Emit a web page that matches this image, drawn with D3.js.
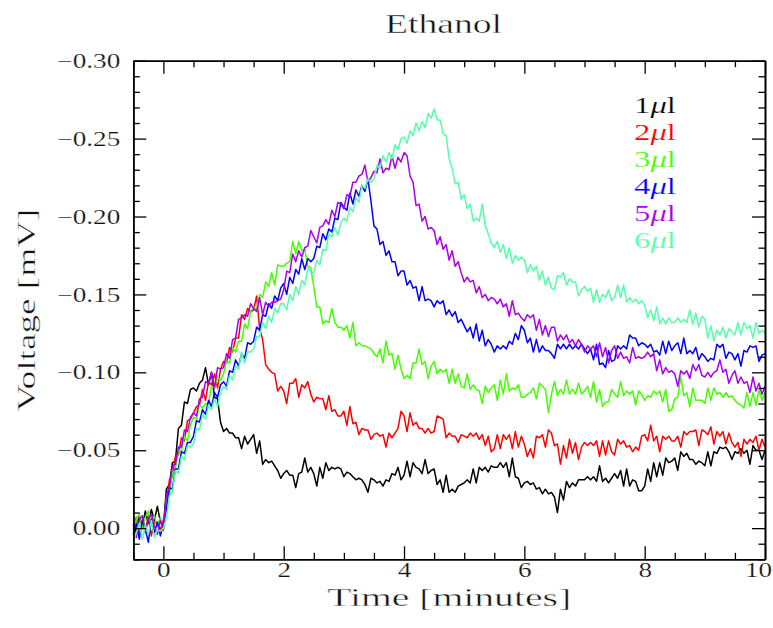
<!DOCTYPE html>
<html>
<head>
<meta charset="utf-8">
<script src="https://cdn.jsdelivr.net/npm/d3@7"></script>
<style>
  body { margin: 0; background: #fff; }
  svg { display: block; }
  text { font-family: "Liberation Serif", "DejaVu Serif", serif; fill: #111; }
  /* a fine white outline drawn over the glyphs keeps the stretched strokes light */
  text.thin { stroke: #fff; stroke-width: 0.4px; paint-order: fill stroke; }
  text.thin-sm { stroke: #fff; stroke-width: 0.2px; paint-order: fill stroke; }
</style>
</head>
<body>
<svg id="chart" width="773" height="628"></svg>
<script>
// Sensor response to ethanol injections of 1-6 microlitres.
// Each trace is sampled every 0.05 min from -0.5 to 10 min; values in microvolts.
const sampleStart = -0.5;
const sampleStep = 0.05;

const volumes = [1, 2, 3, 4, 5, 6];

const trace1ul = [
  -3, 3, -8, -1, -11, -3, -12, -5, -14, -4,
  -1, -25, -28, -42, -43, -64, -66, -81, -80, -89,
  -90, -88, -93, -95, -103, -92, -100, -84, -83, -68,
  -62, -64, -61, -61, -58, -58, -51, -59, -54, -57,
  -60, -48, -56, -41, -44, -42, -43, -40, -37, -32,
  -35, -37, -34, -34, -26, -35, -36, -45, -36, -39,
  -35, -27, -39, -32, -42, -37, -39, -38, -39, -38,
  -33, -36, -35, -33, -31, -32, -31, -28, -23, -32,
  -31, -29, -30, -27, -31, -30, -35, -34, -39, -31,
  -34, -43, -33, -42, -39, -38, -35, -44, -35, -37,
  -38, -28, -31, -23, -34, -23, -25, -23, -27, -28,
  -29, -31, -29, -38, -29, -39, -37, -39, -36, -40,
  -39, -39, -42, -39, -42, -33, -45, -33, -32, -26,
  -29, -30, -28, -29, -25, -26, -22, -25, -22, -23,
  -20, -10, -25, -18, -30, -26, -29, -27, -31, -31,
  -31, -33, -31, -33, -30, -40, -30, -32, -29, -32,
  -35, -32, -37, -27, -38, -27, -31, -30, -24, -24,
  -27, -38, -30, -42, -33, -42, -34, -45, -42, -43,
  -45, -37, -49, -46, -48, -44, -44, -41, -43, -42,
  -40, -49, -40, -49, -48, -52, -51, -52, -49, -44,
  -49, -48, -51, -48, -50, -41, -53, -50, -50, -44,
  -50
];

const trace2ul = [
  -1, -7, 4, -5, 2, -8, 5, -4, -3, 1,
  -5, -14, -31, -33, -46, -47, -58, -56, -69, -70,
  -74, -78, -79, -89, -82, -94, -92, -99, -90, -102,
  -107, -106, -116, -113, -122, -122, -137, -134, -141, -139,
  -140, -149, -128, -121, -105, -102, -100, -99, -88, -91,
  -88, -80, -93, -93, -96, -84, -92, -90, -94, -86,
  -81, -84, -83, -83, -76, -85, -75, -76, -72, -72,
  -75, -66, -78, -67, -68, -60, -64, -63, -63, -57,
  -60, -61, -59, -60, -52, -61, -58, -61, -64, -75,
  -72, -62, -74, -66, -68, -64, -64, -61, -64, -61,
  -62, -72, -71, -70, -58, -61, -59, -59, -55, -60,
  -59, -58, -61, -59, -61, -57, -60, -53, -59, -49,
  -51, -60, -51, -60, -57, -60, -51, -62, -52, -59,
  -54, -46, -51, -45, -59, -58, -60, -52, -63, -61,
  -53, -54, -41, -53, -45, -57, -48, -55, -44, -52,
  -55, -53, -55, -53, -56, -46, -56, -47, -56, -49,
  -47, -57, -54, -56, -52, -53, -49, -52, -50, -59,
  -60, -56, -66, -56, -59, -49, -59, -57, -59, -56,
  -56, -59, -52, -62, -60, -62, -62, -63, -53, -63,
  -62, -60, -65, -54, -62, -59, -62, -54, -61, -55,
  -52, -55, -46, -57, -54, -57, -55, -59, -50, -57,
  -52
];

const trace3ul = [
  5, -6, -9, 0, -7, -11, -2, -8, -1, -7,
  2, -18, -21, -35, -38, -50, -49, -59, -56, -66,
  -71, -70, -79, -77, -80, -80, -91, -90, -97, -95,
  -99, -107, -106, -116, -113, -120, -120, -131, -128, -139,
  -142, -140, -150, -148, -158, -155, -164, -156, -169, -168,
  -168, -170, -171, -184, -176, -184, -178, -179, -168, -167,
  -155, -142, -142, -131, -133, -132, -141, -132, -129, -129,
  -127, -130, -122, -132, -117, -119, -117, -117, -116, -115,
  -112, -110, -115, -106, -120, -111, -112, -102, -111, -102,
  -96, -98, -96, -106, -106, -115, -105, -107, -96, -104,
  -107, -99, -102, -100, -102, -93, -102, -93, -99, -91,
  -90, -99, -89, -92, -89, -88, -80, -91, -87, -90,
  -92, -82, -95, -86, -99, -88, -90, -89, -92, -84,
  -84, -86, -87, -90, -83, -93, -91, -89, -74, -86,
  -94, -85, -89, -86, -95, -86, -89, -86, -93, -86,
  -88, -91, -84, -94, -81, -89, -78, -81, -81, -89,
  -86, -84, -94, -85, -88, -86, -88, -79, -88, -86,
  -82, -85, -84, -88, -86, -88, -81, -89, -75, -76,
  -83, -84, -97, -85, -87, -78, -90, -82, -82, -82,
  -80, -90, -82, -90, -86, -87, -84, -87, -84, -85,
  -82, -80, -79, -77, -87, -78, -87, -79, -89, -82,
  -87
];

const trace4ul = [
  4, -3, 7, -5, 1, 9, -6, 3, -4, 5,
  -3, -12, -26, -25, -38, -38, -49, -48, -55, -55,
  -59, -69, -68, -76, -73, -82, -78, -87, -84, -92,
  -94, -91, -101, -100, -108, -104, -112, -109, -119, -118,
  -120, -129, -127, -137, -136, -144, -141, -149, -146, -154,
  -157, -150, -161, -157, -166, -163, -173, -166, -173, -171,
  -173, -181, -180, -189, -185, -192, -190, -199, -198, -209,
  -206, -204, -215, -208, -217, -213, -220, -216, -224, -210,
  -194, -192, -182, -184, -175, -178, -171, -171, -162, -165,
  -165, -156, -159, -154, -155, -146, -155, -146, -147, -146,
  -142, -146, -144, -146, -137, -140, -136, -139, -132, -134,
  -130, -126, -129, -122, -131, -120, -127, -117, -121, -118,
  -113, -117, -115, -117, -115, -120, -118, -125, -121, -130,
  -127, -119, -122, -113, -121, -113, -117, -114, -114, -112,
  -109, -118, -115, -118, -115, -118, -115, -117, -115, -118,
  -115, -112, -115, -108, -118, -105, -106, -103, -114, -107,
  -108, -117, -115, -117, -115, -124, -122, -122, -117, -119,
  -118, -116, -118, -113, -114, -111, -120, -112, -120, -114,
  -117, -119, -112, -122, -112, -114, -112, -116, -108, -112,
  -110, -107, -109, -108, -118, -116, -118, -109, -113, -112,
  -108, -112, -104, -114, -113, -117, -116, -117, -107, -111,
  -112
];

const trace5ul = [
  0, 6, -5, -8, 3, -6, -9, -1, 4, -5,
  1, -21, -26, -40, -41, -52, -52, -63, -62, -71,
  -74, -72, -83, -84, -94, -93, -100, -90, -103, -102,
  -103, -112, -109, -121, -122, -134, -135, -137, -136, -144,
  -141, -139, -148, -137, -145, -142, -145, -145, -146, -147,
  -153, -165, -164, -176, -171, -178, -174, -180, -181, -191,
  -187, -183, -193, -194, -198, -195, -204, -200, -209, -208,
  -205, -214, -213, -222, -222, -226, -227, -233, -222, -225,
  -229, -228, -237, -228, -231, -230, -239, -231, -238, -235,
  -241, -239, -226, -222, -207, -208, -197, -200, -192, -193,
  -191, -182, -187, -179, -182, -172, -178, -168, -171, -164,
  -158, -161, -158, -159, -151, -155, -148, -150, -146, -148,
  -147, -144, -147, -142, -144, -136, -146, -137, -138, -135,
  -133, -137, -135, -137, -127, -134, -124, -130, -123, -129,
  -129, -120, -124, -121, -124, -119, -121, -117, -121, -118,
  -113, -117, -115, -117, -110, -119, -110, -116, -106, -114,
  -117, -109, -113, -109, -110, -106, -116, -109, -110, -109,
  -110, -113, -110, -112, -101, -108, -99, -103, -100, -101,
  -99, -91, -101, -99, -101, -96, -105, -101, -105, -98,
  -97, -100, -97, -100, -101, -108, -100, -102, -93, -98,
  -101, -93, -97, -93, -94, -87, -97, -88, -93, -86,
  -91
];

const trace6ul = [
  9, 3, -3, 7, -2, 4, -5, 6, 1, 2,
  0, -6, -21, -23, -37, -35, -46, -44, -53, -52,
  -54, -64, -63, -73, -70, -79, -76, -83, -78, -87,
  -91, -89, -98, -95, -104, -102, -113, -106, -113, -113,
  -115, -123, -123, -132, -128, -136, -132, -141, -138, -144,
  -144, -140, -150, -146, -155, -150, -159, -156, -167, -164,
  -164, -172, -169, -179, -178, -189, -187, -193, -188, -196,
  -199, -197, -206, -203, -212, -209, -220, -218, -224, -222,
  -224, -233, -231, -239, -235, -241, -237, -246, -243, -250,
  -251, -247, -255, -252, -260, -255, -261, -257, -266, -263,
  -269, -262, -262, -253, -252, -237, -231, -221, -222, -211,
  -214, -205, -208, -197, -199, -197, -208, -194, -189, -183,
  -180, -184, -177, -182, -173, -180, -170, -175, -172, -174,
  -172, -164, -169, -165, -168, -159, -165, -156, -161, -154,
  -153, -162, -161, -164, -156, -160, -158, -158, -149, -153,
  -155, -152, -154, -145, -153, -145, -150, -148, -153, -146,
  -148, -156, -148, -156, -145, -148, -145, -147, -144, -146,
  -143, -135, -140, -133, -142, -131, -135, -131, -135, -132,
  -132, -135, -132, -134, -132, -140, -131, -138, -129, -136,
  -134, -122, -130, -120, -127, -124, -129, -122, -128, -126,
  -124, -132, -124, -132, -128, -130, -122, -132, -125, -127,
  -125
];

const traces = [trace1ul, trace2ul, trace3ul, trace4ul, trace5ul, trace6ul];

const xMajorTicks = [0, 2, 4, 6, 8, 10];
const yMajorTicks = [0, -0.05, -0.10, -0.15, -0.20, -0.25, -0.30];

// Pen colours, one per injected volume
const penColors = ["#000000", "#ff0000", "#44ff00", "#0000ff", "#aa00ee", "#55ffaa"];

const svg = d3.select("#chart");
const plot = { left: 133.3, right: 765, top: 60.7, bottom: 559.3 };

const x = d3.scaleLinear().domain([-0.5, 10]).range([plot.left, plot.right]);
const y = d3.scaleLinear().domain([0.02, -0.30]).range([plot.bottom, plot.top]);

const xMinor = d3.range(-0.5, 10.001, 0.5).filter(v => Math.abs(v / 2 - Math.round(v / 2)) > 1e-6);
const yMinor = d3.range(0.02, -0.3001, -0.01).filter(v => Math.abs(v / 0.05 - Math.round(v / 0.05)) > 1e-6);

// Curves
const line = d3.line()
  .x((d, i) => x(sampleStart + i * sampleStep))
  .y(d => y(d / 1000));

svg.append("g").selectAll("path")
  .data(traces)
  .join("path")
  .attr("fill", "none")
  .attr("stroke", (d, i) => penColors[i])
  .attr("stroke-width", 1.5)
  .attr("stroke-linejoin", "round")
  .attr("d", line);

// Axes: ticks point inward on all four sides
function styleAxis(g) {
  g.selectAll("path.domain").attr("stroke", "#000").attr("stroke-width", 1.6);
  g.selectAll(".tick line").attr("stroke", "#000").attr("stroke-width", 1.3);
}

const MAJOR = 13, MINOR = 6.5;

svg.append("g").attr("transform", `translate(0,${plot.bottom})`)
  .call(d3.axisBottom(x).tickValues(xMajorTicks).tickSizeInner(-MAJOR).tickSizeOuter(0)
    .tickPadding(4).tickFormat(d3.format("d")))
  .call(styleAxis)
  .call(g => g.selectAll("text").attr("dy", null).attr("y", 17.5)
    .attr("x", d => d === 10 ? -7 : 0)
    .attr("font-size", 20).attr("font-family", "Liberation Serif"));

svg.append("g").attr("transform", `translate(0,${plot.bottom})`)
  .call(d3.axisBottom(x).tickValues(xMinor).tickSizeInner(-MINOR).tickSizeOuter(0).tickFormat(""))
  .call(styleAxis);

svg.append("g").attr("transform", `translate(0,${plot.top})`)
  .call(d3.axisTop(x).tickValues(xMajorTicks).tickSizeInner(-MAJOR).tickSizeOuter(0).tickFormat(""))
  .call(styleAxis);
svg.append("g").attr("transform", `translate(0,${plot.top})`)
  .call(d3.axisTop(x).tickValues(xMinor).tickSizeInner(-MINOR).tickSizeOuter(0).tickFormat(""))
  .call(styleAxis);

svg.append("g").attr("transform", `translate(${plot.left},0)`)
  .call(d3.axisLeft(y).tickValues(yMajorTicks).tickSizeInner(-MAJOR).tickSizeOuter(0)
    .tickPadding(13).tickFormat(d3.format(".2f")))
  .call(styleAxis)
  .call(g => g.selectAll("text").attr("dy", "0.33em")
    .attr("font-size", 20).attr("font-family", "Liberation Serif"));
svg.append("g").attr("transform", `translate(${plot.left},0)`)
  .call(d3.axisLeft(y).tickValues(yMinor).tickSizeInner(-MINOR).tickSizeOuter(0).tickFormat(""))
  .call(styleAxis);

svg.append("g").attr("transform", `translate(${plot.right},0)`)
  .call(d3.axisRight(y).tickValues(yMajorTicks).tickSizeInner(-MAJOR).tickSizeOuter(0).tickFormat(""))
  .call(styleAxis);
svg.append("g").attr("transform", `translate(${plot.right},0)`)
  .call(d3.axisRight(y).tickValues(yMinor).tickSizeInner(-MINOR).tickSizeOuter(0).tickFormat(""))
  .call(styleAxis);

// Widen the serif glyphs to the plotter-font proportions
svg.selectAll(".tick text").each(function () {
  const w = this.getComputedTextLength();
  d3.select(this).attr("class", "thin-sm")
    .attr("textLength", w * 1.36).attr("lengthAdjust", "spacingAndGlyphs");
});

// Titles
svg.append("text").attr("class", "thin")
  .attr("x", 443.5).attr("y", 33)
  .attr("text-anchor", "middle").attr("font-size", 28)
  .attr("textLength", 117).attr("lengthAdjust", "spacingAndGlyphs")
  .text("Ethanol");

svg.append("text").attr("class", "thin")
  .attr("x", (plot.left + plot.right) / 2).attr("y", 606)
  .attr("text-anchor", "middle").attr("font-size", 25)
  .attr("textLength", 244).attr("lengthAdjust", "spacingAndGlyphs")
  .text("Time [minutes]");

svg.append("text").attr("class", "thin")
  .attr("transform", `translate(35,${(plot.top + plot.bottom) / 2}) rotate(-90)`)
  .attr("text-anchor", "middle").attr("font-size", 25)
  .attr("textLength", 203).attr("lengthAdjust", "spacingAndGlyphs")
  .text("Voltage [mV]");

// Legend
const legend = svg.append("g").selectAll("text")
  .data(volumes)
  .join("text")
  .attr("class", "thin-sm")
  .attr("x", 634)
  .attr("y", (d, i) => 113 + i * 26.9)
  .attr("font-size", 24)
  .attr("textLength", 42).attr("lengthAdjust", "spacingAndGlyphs")
  .style("fill", (d, i) => penColors[i]);
legend.append("tspan").text(d => d);
legend.append("tspan").attr("font-style", "italic").text("\u03bc");
legend.append("tspan").text("l");
</script>
</body>
</html>
